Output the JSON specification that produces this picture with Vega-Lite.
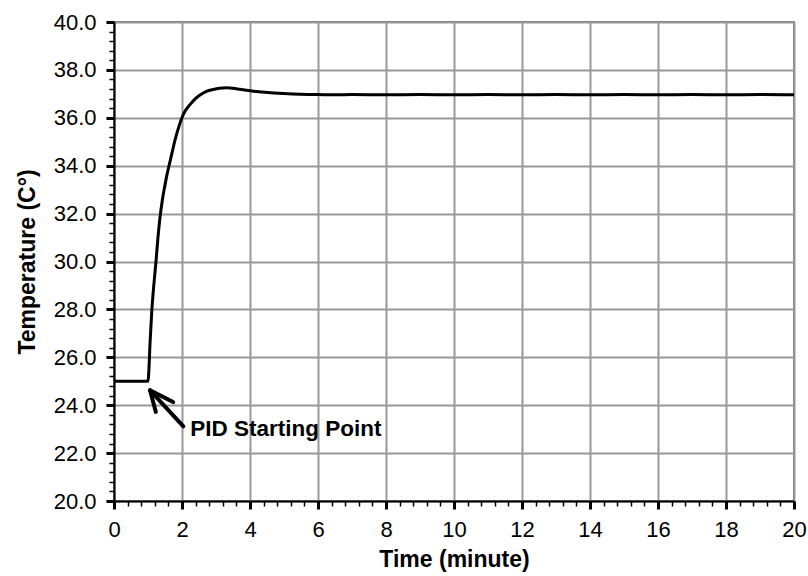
{
  "$schema": "https://vega.github.io/schema/vega-lite/v6.json",
  "width": 680,
  "height": 479,
  "autosize": {"type": "none"},
  "padding": {"left": 114, "top": 22, "right": 14, "bottom": 75},
  "background": "white",
  "config": {
    "font": "Liberation Sans",
    "view": {"stroke": "#777777", "strokeWidth": 2}
  },
  "datasets": {
    "curve": [
      {"t": 0, "T": 25.0}, {"t": 0.5, "T": 25.0}, {"t": 1.0, "T": 25.0},
      {"t": 1.02, "T": 25.3}, {"t": 1.06, "T": 26.6}, {"t": 1.11, "T": 27.9},
      {"t": 1.17, "T": 29.0}, {"t": 1.235, "T": 30.0}, {"t": 1.29, "T": 30.95},
      {"t": 1.35, "T": 31.8}, {"t": 1.42, "T": 32.55}, {"t": 1.5, "T": 33.2},
      {"t": 1.57, "T": 33.7}, {"t": 1.647, "T": 34.17}, {"t": 1.72, "T": 34.62},
      {"t": 1.79, "T": 35.05}, {"t": 1.89, "T": 35.55}, {"t": 1.99, "T": 35.97},
      {"t": 2.1, "T": 36.3}, {"t": 2.235, "T": 36.55}, {"t": 2.38, "T": 36.78},
      {"t": 2.53, "T": 36.95}, {"t": 2.72, "T": 37.1}, {"t": 2.92, "T": 37.18},
      {"t": 3.1, "T": 37.23}, {"t": 3.31, "T": 37.25}, {"t": 3.5, "T": 37.23},
      {"t": 3.7, "T": 37.19}, {"t": 3.9, "T": 37.15}, {"t": 4.05, "T": 37.12},
      {"t": 4.35, "T": 37.08}, {"t": 4.69, "T": 37.04}, {"t": 5.0, "T": 37.01},
      {"t": 5.47, "T": 36.98}, {"t": 6.0, "T": 36.97}, {"t": 6.5, "T": 36.96},
      {"t": 7.0, "T": 36.97}, {"t": 8.0, "T": 36.96}, {"t": 9.0, "T": 36.97},
      {"t": 10.0, "T": 36.96}, {"t": 11.0, "T": 36.97}, {"t": 12.0, "T": 36.96},
      {"t": 13.0, "T": 36.97}, {"t": 14.0, "T": 36.96}, {"t": 15.0, "T": 36.97},
      {"t": 16.0, "T": 36.96}, {"t": 17.0, "T": 36.97}, {"t": 18.0, "T": 36.96},
      {"t": 19.0, "T": 36.97}, {"t": 20.0, "T": 36.96}
    ],
    "arrow": [
      {"seg": "shaft", "i": 0, "t": 2.04, "T": 23.12},
      {"seg": "shaft", "i": 1, "t": 1.06, "T": 24.62},
      {"seg": "barb1", "i": 0, "t": 1.74, "T": 24.13},
      {"seg": "barb1", "i": 1, "t": 1.06, "T": 24.62},
      {"seg": "barb2", "i": 0, "t": 1.06, "T": 24.62},
      {"seg": "barb2", "i": 1, "t": 1.23, "T": 23.72}
    ],
    "label": [
      {"t": 2.24, "T": 23.0, "text": "PID Starting Point"}
    ]
  },
  "encoding": {
    "x": {
      "field": "t", "type": "quantitative",
      "scale": {"domain": [0, 20], "nice": false, "zero": false},
      "axis": {
        "values": [0, 0.4, 0.8, 1.2, 1.6, 2, 2.4, 2.8, 3.2, 3.6, 4, 4.4, 4.8, 5.2, 5.6, 6, 6.4, 6.8, 7.2, 7.6, 8, 8.4, 8.8, 9.2, 9.6, 10, 10.4, 10.8, 11.2, 11.6, 12, 12.4, 12.8, 13.2, 13.6, 14, 14.4, 14.8, 15.2, 15.6, 16, 16.4, 16.8, 17.2, 17.6, 18, 18.4, 18.8, 19.2, 19.6, 20],
        "tickCount": 120,
        "labelExpr": "datum.value % 2 === 0 ? format(datum.value, 'd') : ''",
        "labelOverlap": false,
        "labelFlush": false,
        "title": "Time (minute)",
        "grid": true,
        "gridColor": "#999999",
        "gridWidth": 2,
        "gridOpacity": {"condition": {"test": "datum.value % 2 === 0", "value": 1}, "value": 0},
        "domainColor": "black", "domainWidth": 2,
        "tickColor": "black",
        "tickSize": {"condition": {"test": "datum.value % 2 === 0", "value": 8}, "value": 5},
        "tickWidth": {"condition": {"test": "datum.value % 2 === 0", "value": 3}, "value": 1.5},
        "labelFontSize": 22, "labelColor": "black", "labelPadding": 10,
        "titleFontSize": 23, "titleFontWeight": "bold", "titleColor": "black", "titlePadding": 8
      }
    },
    "y": {
      "field": "T", "type": "quantitative",
      "scale": {"domain": [20, 40], "nice": false, "zero": false},
      "axis": {
        "values": [20, 20.4, 20.8, 21.2, 21.6, 22, 22.4, 22.8, 23.2, 23.6, 24, 24.4, 24.8, 25.2, 25.6, 26, 26.4, 26.8, 27.2, 27.6, 28, 28.4, 28.8, 29.2, 29.6, 30, 30.4, 30.8, 31.2, 31.6, 32, 32.4, 32.8, 33.2, 33.6, 34, 34.4, 34.8, 35.2, 35.6, 36, 36.4, 36.8, 37.2, 37.6, 38, 38.4, 38.8, 39.2, 39.6, 40],
        "tickCount": 120,
        "labelExpr": "datum.value % 2 === 0 ? format(datum.value, '.1f') : ''",
        "labelOverlap": false,
        "labelFlush": false,
        "title": "Temperature (C°)",
        "grid": true,
        "gridColor": "#999999",
        "gridWidth": 2,
        "gridOpacity": {"condition": {"test": "datum.value % 2 === 0", "value": 1}, "value": 0},
        "domainColor": "black", "domainWidth": 2,
        "tickColor": "black",
        "tickSize": {"condition": {"test": "datum.value % 2 === 0", "value": 8}, "value": 5},
        "tickWidth": {"condition": {"test": "datum.value % 2 === 0", "value": 3}, "value": 1.5},
        "labelFontSize": 22, "labelColor": "black", "labelPadding": 10,
        "titleFontSize": 23, "titleFontWeight": "bold", "titleColor": "black", "titlePadding": 14
      }
    }
  },
  "layer": [
    {
      "data": {"name": "curve"},
      "mark": {"type": "line", "color": "black", "strokeWidth": 3, "interpolate": "monotone"}
    },
    {
      "data": {"name": "arrow"},
      "mark": {"type": "line", "color": "black", "strokeWidth": 4, "strokeCap": "round"},
      "encoding": {
        "detail": {"field": "seg", "type": "nominal"},
        "order": {"field": "i", "type": "quantitative"}
      }
    },
    {
      "data": {"name": "label"},
      "mark": {"type": "text", "align": "left", "baseline": "middle", "fontSize": 22.5, "fontWeight": "bold", "color": "black"},
      "encoding": {
        "text": {"field": "text", "type": "nominal"}
      }
    }
  ]
}
